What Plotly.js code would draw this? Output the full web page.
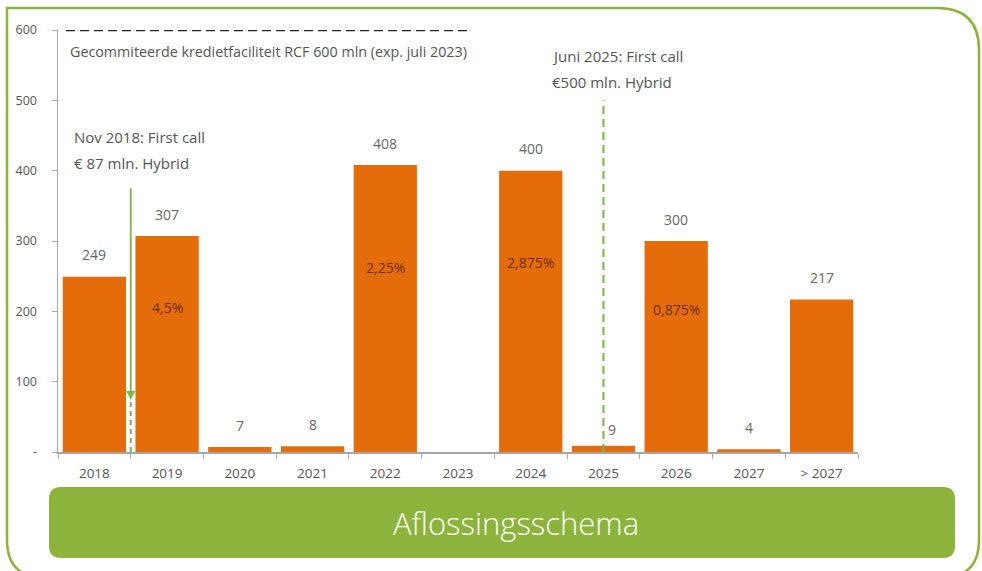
<!DOCTYPE html>
<html><head><meta charset="utf-8">
<script src="https://cdn.plot.ly/plotly-3.0.1.min.js"></script>
<style>html,body{margin:0;padding:0;background:#fff;}#chart{width:982px;height:571px;}</style>
</head><body><div id="chart"></div>
<script>
// Data
const categories = ['2018','2019','2020','2021','2022','2023','2024','2025','2026','2027','> 2027'];
const amounts = [249, 307, 7, 8, 408, null, 400, 9, 300, 4, 217];
const couponCats = ['2019','2022','2024','2026'];
const couponLabels = ['4,5%','2,25%','2,875%','0,875%'];
const couponLabelY = [205, 263, 270, 202];
const rcfLimit = 600;
const rcfLabel = 'Gecommiteerde kredietfaciliteit RCF 600 mln (exp. juli 2023)';
const call1Text = ['Nov 2018: First call', '€ 87 mln. Hybrid'];
const call1Amount = 74;   // arrow head level
const call2Text = ['Juni 2025: First call', '€500 mln. Hybrid'];
const call2Cat = '2025';
const call2Amount = 500;
const bannerTitle = 'Aflossingsschema';

const L = 58, T = 30, R = 124, B = 119, W = 982, H = 571;
const pw = W - L - R, ph = H - T - B;
const px = x => (x - L) / pw;
const py = y => (H - B - y) / ph;
const idx = c => categories.indexOf(c);

const green = '#8cb43c';
const lineGreen = '#7ab648';
const orange = '#e46c0a';
const font = 'Open Sans, Noto Sans, sans-serif';

const traces = [{
  type: 'bar', x: categories, y: amounts,
  marker: {color: orange}, hoverinfo: 'x+y', showlegend: false
}];

const annotations = [];
categories.forEach((c, i) => {
  if (amounts[i] == null) return;
  annotations.push({x: i, y: amounts[i], xref: 'x', yref: 'y', text: String(amounts[i]),
    showarrow: false, xanchor: 'center', yanchor: 'middle', yshift: c === call2Cat ? 16 : 22,
    xshift: c === call2Cat ? 9 : 0,
    font: {family: font, size: 14, color: '#666'}});
});
couponCats.forEach((c, i) => {
  annotations.push({x: idx(c), y: couponLabelY[i], xref: 'x', yref: 'y', text: couponLabels[i],
    showarrow: false, xanchor: 'center', yanchor: 'middle',
    font: {family: font, size: 14, color: '#6b2e00'}});
});
const txt = (x, y, t, size, yref) => ({x: px(x), y: yref === 'y' ? y : py(y), xref: 'paper', yref: yref || 'paper',
  xanchor: 'left', yanchor: 'middle', text: t, showarrow: false, font: {family: font, size: size, color: '#555'}});
annotations.push(txt(68, 569, rcfLabel, 14.3, 'y'));
annotations.push(txt(72, 137, call1Text[0], 15));
annotations.push(txt(72, 163, call1Text[1], 15));
annotations.push(txt(550, 56, call2Text[0], 15));
annotations.push(txt(550, 82, call2Text[1], 15));
// arrow for Nov 2018 call
annotations.push({x: 0.5, y: call1Amount, xref: 'x', yref: 'y', ax: 0.5, ay: 377, axref: 'x', ayref: 'y',
  showarrow: true, arrowhead: 2, arrowsize: 1, arrowwidth: 1.8, arrowcolor: lineGreen, text: ''});
// banner title
annotations.push({x: px(516), y: py(523), xref: 'paper', yref: 'paper', xanchor: 'center', yanchor: 'middle',
  text: bannerTitle, showarrow: false, font: {family: font, size: 31, color: '#fff', weight: 300}});

const r = 42, rb = 12;
const framePath = `M ${px(7)},${py(8)} L ${px(979 - r)},${py(8)} Q ${px(979)},${py(8)} ${px(979)},${py(8 + r)} ` +
  `L ${px(979)},${py(540)} Q ${px(979)},${py(578)} ${px(940)},${py(578)} L ${px(46)},${py(578)} ` +
  `Q ${px(7)},${py(578)} ${px(7)},${py(540)} Z`;
const bx0 = 49, bx1 = 955, by0 = 487, by1 = 558;
const bannerPath = `M ${px(bx0 + rb)},${py(by0)} L ${px(bx1 - rb)},${py(by0)} Q ${px(bx1)},${py(by0)} ${px(bx1)},${py(by0 + rb)} ` +
  `L ${px(bx1)},${py(by1 - rb)} Q ${px(bx1)},${py(by1)} ${px(bx1 - rb)},${py(by1)} L ${px(bx0 + rb)},${py(by1)} ` +
  `Q ${px(bx0)},${py(by1)} ${px(bx0)},${py(by1 - rb)} L ${px(bx0)},${py(by0 + rb)} Q ${px(bx0)},${py(by0)} ${px(bx0 + rb)},${py(by0)} Z`;

const shapes = [
  {type: 'path', path: framePath, xref: 'paper', yref: 'paper', line: {color: green, width: 2.5}, fillcolor: 'rgba(0,0,0,0)'},
  {type: 'path', path: bannerPath, xref: 'paper', yref: 'paper', line: {width: 0}, fillcolor: green},
  {type: 'line', xref: 'x', yref: 'y', x0: -0.39, x1: 5.13, y0: rcfLimit, y1: rcfLimit,
    line: {color: '#222', width: 2.5, dash: '9px,5px'}},
  {type: 'line', xref: 'x', yref: 'y', x0: 0.5, x1: 0.5, y0: 0, y1: call1Amount,
    line: {color: lineGreen, width: 2, dash: '5px,4px'}},
  {type: 'line', xref: 'x', yref: 'y', x0: idx(call2Cat), x1: idx(call2Cat), y0: 0, y1: call2Amount,
    line: {color: lineGreen, width: 2, dash: '8px,5px'}}
];

const layout = {
  width: W, height: H,
  margin: {l: L, r: R, t: T, b: B, pad: 0},
  paper_bgcolor: '#fff', plot_bgcolor: '#fff',
  bargap: 0.13,
  font: {family: font, color: '#555'},
  xaxis: {type: 'category', range: [-0.5, 10.5], showline: true, linecolor: '#a6a6a6', linewidth: 1.5,
    ticks: 'outside', tickson: 'boundaries', ticklen: 5, tickcolor: '#a6a6a6', showgrid: false,
    tickfont: {family: font, size: 13.5, color: '#555'}, ticklabelstandoff: 8, fixedrange: true},
  yaxis: {range: [0, 600], showline: true, linecolor: '#a6a6a6', linewidth: 1.5, ticks: 'outside', ticklen: 5,
    tickcolor: '#a6a6a6', showgrid: false, zeroline: false,
    tickvals: [0, 100, 200, 300, 400, 500, 600], ticktext: ['-', '100', '200', '300', '400', '500', '600'],
    tickfont: {family: font, size: 12.5, color: '#555'}, ticklabelstandoff: 12, fixedrange: true},
  annotations, shapes
};

Plotly.newPlot('chart', traces, layout, {displayModeBar: false, staticPlot: true});
</script>
</body></html>
